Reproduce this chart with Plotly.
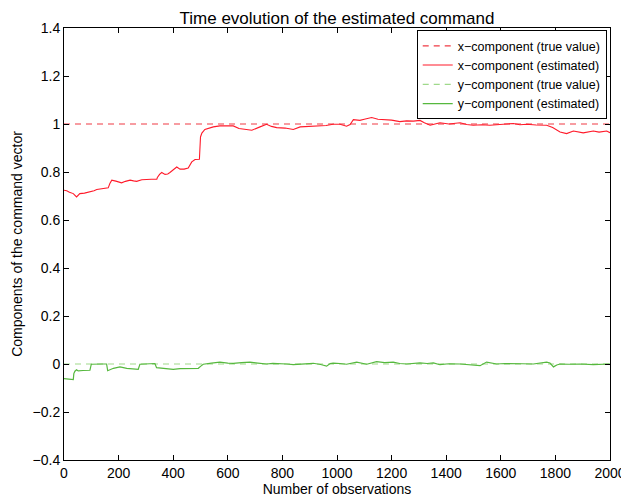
import plotly.graph_objects as go

x_obs = [0, 10, 20, 34, 46, 58, 75, 95, 110, 120, 140, 162, 168, 175, 190, 211, 225, 242, 255,
         266, 285, 303, 320, 340, 342, 350, 358, 370, 380, 388, 400, 413, 425, 440, 455, 462,
         468, 480, 496, 500, 505, 516, 530, 547, 571, 600, 620, 641, 665, 688, 718, 742, 760,
         779, 810, 840, 865, 900, 938, 960, 986, 1011, 1035, 1048, 1060, 1084, 1100, 1127,
         1150, 1170, 1200, 1230, 1255, 1280, 1304, 1320, 1341, 1377, 1410, 1451, 1475, 1499,
         1530, 1560, 1600, 1646, 1670, 1695, 1730, 1768, 1790, 1817, 1841, 1866, 1902, 1939,
         1960, 1988, 2000]
x_est = [0.724, 0.722, 0.716, 0.71, 0.696, 0.71, 0.712, 0.717, 0.722, 0.727, 0.729, 0.734,
         0.752, 0.766, 0.762, 0.755, 0.761, 0.766, 0.763, 0.761, 0.768, 0.77, 0.77, 0.77, 0.777,
         0.79, 0.798, 0.79, 0.792, 0.798, 0.808, 0.821, 0.812, 0.812, 0.817, 0.83, 0.842, 0.852,
         0.853, 0.946, 0.962, 0.977, 0.982, 0.988, 0.992, 0.992, 0.992, 0.981, 0.978, 0.974,
         0.988, 0.999, 0.99, 0.985, 0.983, 0.977, 0.988, 0.99, 0.995, 0.994, 0.999, 0.999,
         0.991, 0.998, 1.018, 1.015, 1.02, 1.027, 1.02, 1.019, 1.016, 1.01, 1.013, 1.012, 1.015,
         1.005, 0.995, 1.005, 1.0, 1.005, 0.998, 0.995, 0.997, 0.995, 0.998, 1.002, 0.997,
         0.999, 0.996, 0.995, 0.985, 0.967, 0.96, 0.971, 0.963, 0.971, 0.966, 0.971, 0.964]

y_obs = [0, 20, 34, 36, 40, 46, 52, 70, 95, 100, 120, 140, 156, 160, 181, 205, 230, 255, 272,
         278, 300, 333, 339, 360, 380, 400, 425, 449, 470, 492, 500, 510, 540, 571, 600, 620,
         650, 681, 710, 742, 765, 791, 815, 840, 870, 913, 940, 962, 975, 986, 1011, 1035,
         1072, 1090, 1109, 1145, 1175, 1206, 1230, 1255, 1280, 1304, 1330, 1353, 1377, 1410,
         1451, 1487, 1524, 1548, 1570, 1585, 1615, 1646, 1680, 1719, 1750, 1768, 1780, 1793,
         1805, 1817, 1850, 1890, 1939, 1970, 2000]
y_est = [-0.061, -0.062, -0.065, -0.04, -0.03, -0.024, -0.029, -0.027, -0.026, -0.001, -0.002,
         0.0, 0.0, -0.028, -0.018, -0.012, -0.018, -0.02, -0.022, -0.001, 0.001, 0.002, -0.015,
         -0.018, -0.02, -0.022, -0.019, -0.018, -0.016, -0.018, -0.01, -0.001, 0.004, 0.008,
         0.004, 0.003, 0.006, 0.008, 0.004, 0.0, 0.003, 0.003, 0.0, -0.003, 0.0, 0.003, -0.002,
         -0.009, 0.002, 0.004, 0.002, -0.001, 0.008, 0.003, -0.001, 0.01, 0.006, 0.008, 0.002,
         0.0, 0.004, 0.005, 0.002, 0.005, -0.003, 0.001, 0.0, -0.004, -0.007, 0.008, 0.002, 0.0,
         0.002, 0.003, 0.001, 0.0, 0.004, 0.008, 0.004, -0.012, -0.004, 0.0, -0.001, 0.0,
         -0.003, -0.001, 0.0]

true_x = [0, 2000]
x_true = [1, 1]
y_true = [0, 0]

fnt = "Liberation Sans, Arial, sans-serif"

fig = go.Figure()
fig.add_trace(go.Scatter(x=true_x, y=x_true, mode="lines", name="x\u2212component (true value)",
                         line=dict(color="#f03a44", width=1.2, dash="6px,5px")))
fig.add_trace(go.Scatter(x=x_obs, y=x_est, mode="lines", name="x\u2212component (estimated)",
                         line=dict(color="#ff1a2a", width=1.1)))
fig.add_trace(go.Scatter(x=true_x, y=y_true, mode="lines", name="y\u2212component (true value)",
                         line=dict(color="#9fd98a", width=1.2, dash="6px,5px")))
fig.add_trace(go.Scatter(x=y_obs, y=y_est, mode="lines", name="y\u2212component (estimated)",
                         line=dict(color="#56b83e", width=1.2)))

axis_style = dict(showline=True, linecolor="black", linewidth=1, mirror="ticks",
                  ticks="inside", ticklen=5, tickcolor="black", showgrid=False,
                  zeroline=False, automargin=False, tickfont=dict(size=14, color="black"))

# the page body has an 8px margin, so the figure is sized to fit the window
fig.update_layout(
    width=621, height=491,
    margin=dict(l=56, r=19, t=20, b=39),
    paper_bgcolor="white", plot_bgcolor="white",
    font=dict(family=fnt, color="black", size=14),
    title=dict(text="Time evolution of the estimated command", x=0.5, xanchor="center",
               xref="paper", yref="container", y=0.992, yanchor="top",
               pad=dict(t=0, b=0), font=dict(size=17)),
    xaxis=dict(range=[0, 2000], dtick=200,
               title=dict(text="Number of observations", standoff=0, font=dict(size=14)),
               **axis_style),
    yaxis=dict(range=[-0.4, 1.4], dtick=0.2,
               title=dict(text="Components of the command vector", standoff=6, font=dict(size=14)),
               **axis_style),
    legend=dict(x=0.994, y=0.995, xanchor="right", yanchor="top", bgcolor="white",
                bordercolor="black", borderwidth=1, font=dict(size=12.5),
                tracegroupgap=0, itemwidth=30),
    showlegend=True,
)

fig.write_html("out.html")
